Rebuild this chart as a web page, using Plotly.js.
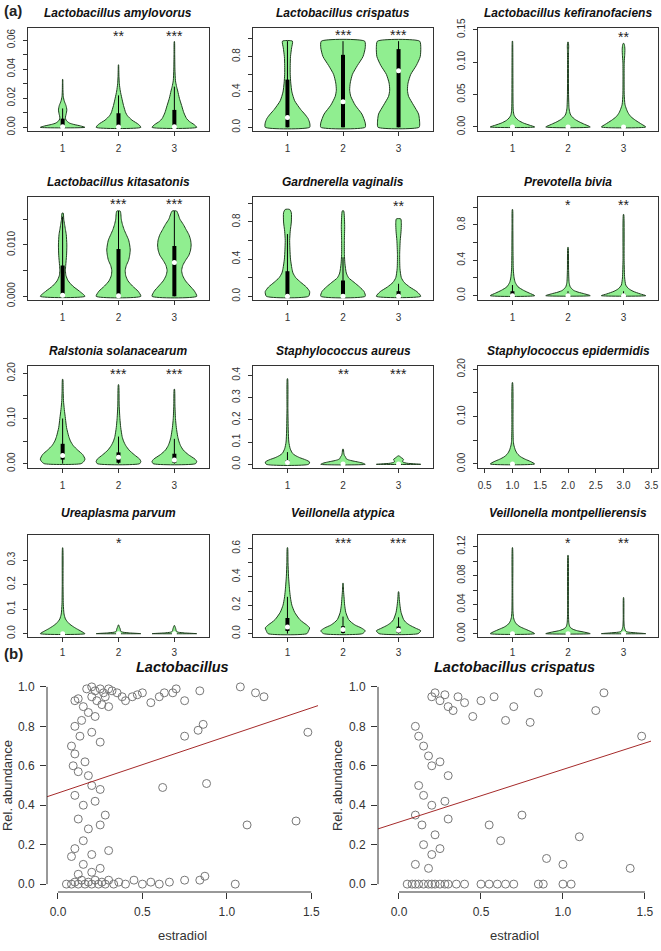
<!DOCTYPE html>
<html><head><meta charset="utf-8">
<script src="https://cdn.plot.ly/plotly-3.0.1.min.js"></script>
<style>html,body{margin:0;padding:0;background:#fff}#chart{width:661px;height:951px}</style>
</head><body><div id="chart"></div>
<script>
// ---------- DATA ----------
const groups = [1, 2, 3];
const panelTitles = ["Lactobacillus amylovorus","Lactobacillus crispatus","Lactobacillus kefiranofaciens",
  "Lactobacillus kitasatonis","Gardnerella vaginalis","Prevotella bivia",
  "Ralstonia solanacearum","Staphylococcus aureus","Staphylococcus epidermidis",
  "Ureaplasma parvum","Veillonella atypica","Veillonella montpellierensis"];
const panelStars = [["","**","***"],["","***","***"],["","","**"],["","***","***"],["","","**"],["","*","**"],
  ["","***","***"],["","**","***"],["","***","***"],["","*",""],["","***","***"],["","*","**"]];
const starLevel = [0.0625,1.044,0.139,0.0179,0.97,1.02,0.198,0.407,0.179,0.368,0.635,0.1246];

// violin outlines: [value, half-width] pairs per group
const vAmylovorus = [
 [[0,.40],[.001,.32],[.002,.2],[.003,.12],[.005,.06],[.007,.05],[.009,.062],[.012,.075],[.015,.06],[.018,.03],[.021,.012],[.025,.006],[.03,.004],[.033,.002]],
 [[0,.40],[.002,.36],[.005,.24],[.008,.16],[.01,.13],[.015,.09],[.02,.06],[.025,.032],[.03,.015],[.035,.008],[.04,.005],[.043,.002]],
 [[0,.40],[.002,.35],[.004,.27],[.006,.22],[.01,.17],[.015,.13],[.02,.09],[.025,.06],[.028,.04],[.032,.02],[.04,.01],[.05,.006],[.059,.002]]];
const vCrispatus = [
 [[0,.40],[.05,.40],[.1,.37],[.15,.31],[.2,.24],[.3,.13],[.4,.08],[.5,.06],[.6,.05],[.7,.05],[.8,.055],[.9,.075],[.975,.09]],
 [[0,.40],[.05,.40],[.15,.34],[.25,.22],[.35,.14],[.42,.12],[.5,.13],[.6,.17],[.7,.26],[.8,.36],[.9,.40],[.975,.39]],
 [[0,.37],[.05,.38],[.15,.36],[.25,.27],[.35,.18],[.42,.16],[.5,.17],[.6,.22],[.7,.32],[.8,.39],[.9,.40],[.975,.38]]];
const vKefiranofaciens = [
 [[0,.40],[.003,.3],[.006,.2],[.01,.11],[.014,.06],[.018,.03],[.025,.015],[.04,.01],[.08,.008],[.13,.005],[.1325,.002]],
 [[0,.40],[.004,.3],[.008,.2],[.012,.12],[.016,.07],[.02,.04],[.028,.02],[.05,.01],[.1,.008],[.118,.01],[.125,.012],[.131,.004]],
 [[0,.40],[.004,.33],[.01,.22],[.016,.13],[.022,.08],[.028,.05],[.035,.025],[.05,.012],[.08,.01],[.1,.012],[.11,.02],[.12,.024],[.127,.015],[.129,.004]]];
const vKitasatonis = [
 [[0,.40],[.001,.3],[.002,.18],[.003,.1],[.004,.06],[.005,.05],[.006,.055],[.008,.07],[.01,.075],[.012,.065],[.013,.05],[.014,.035],[.015,.02],[.0162,.01]],
 [[0,.40],[.001,.35],[.002,.25],[.003,.17],[.004,.13],[.005,.12],[.006,.14],[.007,.18],[.008,.2],[.009,.21],[.01,.2],[.011,.18],[.012,.14],[.013,.1],[.014,.07],[.015,.05],[.0166,.03]],
 [[0,.40],[.001,.36],[.002,.28],[.003,.2],[.004,.15],[.005,.13],[.006,.15],[.007,.2],[.008,.26],[.009,.29],[.01,.3],[.011,.29],[.012,.26],[.013,.21],[.014,.16],[.015,.1],[.0166,.04]]];
const vGardnerella = [
 [[0,.38],[.05,.40],[.1,.34],[.15,.24],[.2,.15],[.25,.1],[.3,.08],[.4,.055],[.5,.045],[.6,.04],[.7,.05],[.8,.07],[.9,.07],[.935,.04]],
 [[0,.40],[.05,.38],[.1,.3],[.15,.2],[.2,.1],[.25,.06],[.35,.035],[.45,.025],[.6,.025],[.75,.03],[.85,.025],[.92,.012]],
 [[0,.40],[.05,.33],[.1,.2],[.15,.1],[.2,.05],[.3,.025],[.45,.02],[.6,.03],[.7,.045],[.78,.05],[.833,.04]]];
const vPrevotella = [
 [[0,.40],[.03,.3],[.06,.2],[.1,.1],[.15,.05],[.2,.03],[.3,.015],[.5,.01],[.8,.007],[.974,.003]],
 [[0,.40],[.02,.3],[.04,.18],[.06,.1],[.1,.04],[.15,.02],[.3,.01],[.546,.003]],
 [[0,.40],[.02,.3],[.05,.17],[.08,.09],[.12,.04],[.2,.02],[.4,.01],[.918,.003]]];
const vRalstonia = [
 [[0,.33],[.005,.38],[.01,.40],[.02,.36],[.03,.27],[.04,.19],[.05,.14],[.06,.11],[.08,.07],[.1,.05],[.12,.03],[.14,.015],[.16,.01],[.187,.003]],
 [[0,.38],[.005,.40],[.01,.38],[.02,.28],[.03,.19],[.04,.13],[.05,.09],[.06,.065],[.08,.04],[.1,.025],[.13,.012],[.175,.003]],
 [[0,.38],[.005,.40],[.01,.37],[.02,.25],[.03,.16],[.04,.11],[.05,.08],[.06,.06],[.08,.035],[.1,.02],[.13,.01],[.165,.003]]];
const vAureus = [
 [[0,.38],[.01,.40],[.02,.33],[.03,.22],[.04,.14],[.05,.09],[.07,.05],[.1,.025],[.15,.015],[.25,.008],[.385,.003]],
 [[0,.40],[.005,.36],[.01,.28],[.015,.18],[.02,.1],[.025,.06],[.03,.05],[.035,.04],[.04,.025],[.05,.015],[.068,.006]],
 [[0,.40],[.002,.3],[.005,.15],[.01,.08],[.015,.07],[.02,.09],[.025,.08],[.03,.05],[.035,.025],[.038,.008]]];
const vEpidermidis = [
 [[0,.40],[.005,.33],[.01,.23],[.015,.15],[.02,.1],[.025,.07],[.03,.05],[.04,.025],[.05,.015],[.08,.01],[.172,.003]],
 [], []];
const vUreaplasma = [
 [[0,.40],[.01,.33],[.02,.25],[.03,.18],[.04,.12],[.05,.08],[.06,.05],[.08,.025],[.12,.012],[.2,.007],[.35,.002]],
 [[0,.40],[.003,.2],[.006,.08],[.01,.04],[.015,.035],[.02,.03],[.025,.02],[.03,.012],[.0355,.004]],
 [[0,.40],[.003,.18],[.006,.07],[.01,.035],[.015,.03],[.02,.025],[.025,.018],[.03,.01],[.033,.004]]];
const vAtypica = [
 [[0,.35],[.02,.38],[.04,.40],[.06,.35],[.08,.28],[.1,.22],[.15,.13],[.2,.08],[.25,.055],[.3,.04],[.4,.02],[.5,.01],[.605,.003]],
 [[0,.35],[.02,.40],[.04,.33],[.06,.22],[.08,.15],[.1,.1],[.15,.05],[.2,.03],[.25,.02],[.3,.01],[.355,.003]],
 [[0,.35],[.02,.40],[.04,.3],[.06,.2],[.08,.13],[.1,.09],[.15,.045],[.2,.025],[.25,.012],[.295,.003]]];
const vMontpellierensis = [
 [[0,.40],[.003,.33],[.006,.24],[.009,.15],[.012,.09],[.015,.055],[.018,.035],[.022,.02],[.03,.01],[.06,.006],[.1186,.002]],
 [[0,.40],[.002,.3],[.004,.17],[.006,.09],[.008,.05],[.01,.03],[.015,.015],[.03,.007],[.108,.002]],
 [[0,.40],[.001,.25],[.002,.1],[.003,.05],[.005,.03],[.01,.012],[.02,.006],[.0498,.002]]];

// box stats per group: [q1, median, q3, whiskerLow, whiskerHigh]
const bAmylovorus = [[.001,.0005,.006,0,.013],[.001,.0003,.0097,0,.022],[.001,.0005,.012,0,.028]];
const bCrispatus = [[0,.11,.54,0,.975],[0,.29,.82,0,.975],[0,.64,.885,0,.975]];
const bKefiranofaciens = [[0,0,.0005,0,.001],[0,0,.0005,0,.001],[0,0,.0005,0,.001]];
const bKitasatonis = [[.0004,.0002,.006,0,.0155],[0,.0001,.0092,0,.0166],[0,.0066,.0098,0,.0166]];
const bGardnerella = [[.01,0,.27,0,.67],[.02,0,.17,0,.42],[.01,0,.055,0,.135]];
const bPrevotella = [[0,0,.05,0,.12],[0,0,.02,0,.05],[0,0,.02,0,.05]];
const bRalstonia = [[.009,.018,.044,0,.1],[.002,.014,.025,0,.06],[.002,.008,.022,0,.055]];
const bAureus = [[.002,.008,.018,0,.055],[0,.002,.004,0,.01],[0,.001,.002,0,.005]];
const bEpidermidis = [[0,0,.001,0,.002],null,null];
const bUreaplasma = [[0,0,.003,0,.007],[0,0,0,0,0],[0,0,0,0,0]];
const bAtypica = [[.019,.047,.11,0,.259],[.005,.03,.052,0,.12],[.005,.024,.05,0,.115]];
const bMontpellierensis = [[0,0,.0005,0,.001],[0,0,.0005,0,.001],[0,0,.0005,0,.001]];

const violinData = [vAmylovorus,vCrispatus,vKefiranofaciens,vKitasatonis,vGardnerella,vPrevotella,
  vRalstonia,vAureus,vEpidermidis,vUreaplasma,vAtypica,vMontpellierensis];
const boxData = [bAmylovorus,bCrispatus,bKefiranofaciens,bKitasatonis,bGardnerella,bPrevotella,
  bRalstonia,bAureus,bEpidermidis,bUreaplasma,bAtypica,bMontpellierensis];

// axis ticks for each panel
const yTickVals = [[0,.01,.02,.03,.04,.05,.06],[0,.2,.4,.6,.8,1],[0,.05,.1,.15],[0,.005,.01,.015],
  [0,.2,.4,.6,.8,1],[0,.2,.4,.6,.8,1],[0,.05,.1,.15,.2],[0,.1,.2,.3,.4],[0,.05,.1,.15,.2],
  [0,.1,.2,.3],[0,.1,.2,.3,.4,.5,.6],[0,.02,.04,.06,.08,.1,.12]];
const yTickText = [["0.00","","0.02","","0.04","","0.06"],["0.0","","0.4","","0.8",""],["0.00","0.05","0.10","0.15"],
  ["0.000","","0.010",""],["0.0","","0.4","","0.8",""],["0.0","","0.4","","0.8",""],
  ["0.00","","0.10","","0.20"],["0.0","0.1","0.2","0.3","0.4"],["0.00","","0.10","","0.20"],
  ["0.0","0.1","0.2","0.3"],["0.0","","0.2","","0.4","","0.6"],["0.00","","0.04","","0.08","","0.12"]];
const yRanges = [[-0.0025,0.0683],[-0.042,1.124],[-0.0062,0.1526],[-0.00072,0.01934],[-0.04,1.069],[-0.049,1.115],
  [-0.0096,0.2163],[-0.0165,0.442],[-0.0085,0.207],[-0.0136,0.402],[-0.0235,0.694],[-0.0046,0.136]];

// panel (b) scatter data
const lactoX = [0.17,0.2,0.22,0.25,0.27,0.3,0.32,0.35,0.38,0.2,0.23,0.26,0.28,0.4,0.44,0.47,0.5,0.55,0.6,0.63,0.68,0.7,0.75,0.84,
  0.12,0.1,0.15,0.18,0.22,0.3,0.14,0.1,0.13,0.2,0.25,0.08,0.1,0.16,0.09,0.12,0.18,0.2,0.25,0.1,0.15,0.22,0.28,0.12,0.18,0.25,
  0.15,0.1,0.2,0.08,0.3,0.15,0.25,0.12,0.2,
  0.05,0.08,0.1,0.12,0.14,0.16,0.18,0.2,0.22,0.24,0.26,0.28,0.3,0.33,0.36,0.4,0.45,0.5,0.55,
  1.08,1.17,1.22,1.48,1.12,1.41,0.88,0.62,0.86,0.83,0.75,0.66,0.6,0.87,0.84,1.05,0.75];
const lactoY = [0.99,1.0,0.98,0.99,0.97,0.99,0.98,0.97,0.95,0.95,0.93,0.91,0.95,0.93,0.95,0.96,0.97,0.92,0.95,0.97,0.97,0.99,0.93,0.98,
  0.94,0.93,0.9,0.87,0.85,0.9,0.83,0.8,0.75,0.77,0.72,0.7,0.66,0.62,0.6,0.57,0.55,0.5,0.48,0.45,0.4,0.42,0.35,0.33,0.28,0.3,
  0.22,0.18,0.15,0.14,0.17,0.1,0.08,0.05,0.06,
  0.0,0.0,0.01,0.0,0.02,0.0,0.01,0.0,0.02,0.0,0.01,0.0,0.02,0.0,0.01,0.0,0.02,0.0,0.01,
  1.0,0.97,0.95,0.77,0.3,0.32,0.51,0.49,0.81,0.78,0.75,0.01,0.0,0.04,0.02,0.0,0.02];
const crispX = [0.2,0.22,0.25,0.28,0.3,0.33,0.36,0.4,0.45,0.5,0.58,0.65,0.7,0.8,0.85,1.2,1.25,1.48,
  0.1,0.12,0.15,0.18,0.2,0.25,0.3,0.12,0.15,0.2,0.28,0.1,0.14,0.22,0.3,0.15,0.2,0.25,0.1,0.18,0.55,0.62,0.75,0.9,1.0,1.41,1.1,
  0.05,0.08,0.1,0.12,0.15,0.18,0.2,0.22,0.25,0.28,0.3,0.35,0.4,0.5,0.55,0.6,0.65,0.7,0.85,0.88,1.0,1.05];
const crispY = [0.95,0.97,0.93,0.96,0.9,0.88,0.95,0.92,0.85,0.93,0.95,0.83,0.9,0.82,0.97,0.88,0.97,0.75,
  0.8,0.75,0.7,0.65,0.6,0.62,0.55,0.5,0.45,0.4,0.42,0.35,0.3,0.25,0.33,0.2,0.15,0.18,0.1,0.08,0.3,0.22,0.35,0.13,0.1,0.08,0.24,
  0,0,0,0,0,0,0,0,0,0,0,0,0,0,0,0,0,0,0,0,0,0];
const lactoFitX = [-0.065, 1.54];
const crispFitX = [-0.128, 1.537];
const lactoFitY = [0.443, 0.905];
const crispFitY = [0.28, 0.725];
const scatTickX = [0, 0.5, 1, 1.5];
const scatTickY = [0, 0.2, 0.4, 0.6, 0.8, 1];

// ---------- LAYOUT GEOMETRY ----------
const W = 661, H = 951;
const colPx = [[28,209],[253,433],[478,658]];
const rowPx = [[28,131],[197,300],[366,468],[535,637]];
const titlePx = [13,182,351,513];
const FONT = "Liberation Sans, Arial, Helvetica, sans-serif";
const AX = "#333333";

const traces = [];
const layout = {
  width: W, height: H, margin: {l:0,r:0,t:0,b:0}, showlegend: false,
  paper_bgcolor: "#fff", plot_bgcolor: "#fff",
  font: {family: FONT, color: AX, size: 10},
  annotations: [], shapes: []
};

function axisBase() {
  return {showgrid:false, zeroline:false, showline:true, mirror:true, linecolor:AX, linewidth:1,
    ticks:"outside", ticklen:4, tickcolor:AX, tickwidth:1, tickfont:{family:FONT,size:10,color:AX}, fixedrange:true};
}

for (let p = 0; p < 12; p++) {
  const r = Math.floor(p/3), c = p % 3;
  const xa = "x" + (p+1), ya = "y" + (p+1);
  const xk = "xaxis" + (p+1), yk = "yaxis" + (p+1);
  const xdom = [colPx[c][0]/W, colPx[c][1]/W];
  const ydom = [1 - rowPx[r][1]/H, 1 - rowPx[r][0]/H];
  const xAx = Object.assign(axisBase(), {domain:xdom, range:[0.38,3.62], anchor:ya, ticklabelstandoff:(r === 3 ? 2 : 4)});
  if (p === 8) { xAx.tickvals = [0.5,1,1.5,2,2.5,3,3.5]; xAx.ticktext = ["0.5","1.0","1.5","2.0","2.5","3.0","3.5"]; }
  else { xAx.tickvals = groups; xAx.ticktext = groups.map(String); }
  const yAx = Object.assign(axisBase(), {domain:ydom, range:yRanges[p], anchor:xa, tickvals:yTickVals[p], ticktext:yTickText[p], tickangle:-90, ticklabelstandoff:4});
  layout[xk] = xAx; layout[yk] = yAx;

  for (let g = 0; g < 3; g++) {
    const prof = violinData[p][g];
    if (!prof || prof.length === 0) continue;
    const cx = groups[g];
    const xs = [], ys = [];
    prof.forEach(([v,w]) => { xs.push(cx + w); ys.push(v); });
    for (let i = prof.length-1; i >= 0; i--) { xs.push(cx - prof[i][1]); ys.push(prof[i][0]); }
    xs.push(xs[0]); ys.push(ys[0]);
    traces.push({type:"scatter", mode:"lines", x:xs, y:ys, xaxis:xa, yaxis:ya, fill:"toself",
      fillcolor:"#90ee90", line:{color:"#1f3d1f", width:1, shape:"spline", smoothing:0.6}, hoverinfo:"skip"});
    const b = boxData[p][g];
    if (b) {
      traces.push({type:"scatter", mode:"lines", x:[cx,cx], y:[b[3],b[4]], xaxis:xa, yaxis:ya, line:{color:"#000",width:1}, hoverinfo:"skip"});
      traces.push({type:"scatter", mode:"lines", x:[cx,cx], y:[b[0],b[2]], xaxis:xa, yaxis:ya, line:{color:"#000",width:4}, hoverinfo:"skip"});
      traces.push({type:"scatter", mode:"markers", x:[cx], y:[b[1]], xaxis:xa, yaxis:ya, marker:{color:"#fff",size:5}, hoverinfo:"skip"});
    }
    if (panelStars[p][g]) {
      layout.annotations.push({xref:xa, yref:ya, x:cx, y:starLevel[p], text:panelStars[p][g], showarrow:false,
        font:{family:FONT,size:14,color:"#222"}, yanchor:"middle"});
    }
  }
  layout.annotations.push({xref:"paper", yref:"paper", x:(xdom[0]+xdom[1])/2, y:1 - titlePx[r]/H,
    text:"<b><i>"+panelTitles[p]+"</i></b>", showarrow:false, font:{family:FONT,size:12,color:"#111"}, xanchor:"center", yanchor:"middle"});
}

// scatter panels
const scatX = [[47,318],[378,651]];
const scatY = [679,892];
const scatTitles = ["Lactobacillus","Lactobacillus crispatus"];
const scatXs = [lactoX, crispX], scatYs = [lactoY, crispY], fitXs = [lactoFitX, crispFitX], fitYs = [lactoFitY, crispFitY];
for (let s = 0; s < 2; s++) {
  const n = 13 + s, xa = "x"+n, ya = "y"+n;
  const xdom = [scatX[s][0]/W, scatX[s][1]/W];
  const ydom = [1 - scatY[1]/H, 1 - scatY[0]/H];
  layout["xaxis"+n] = Object.assign(axisBase(), {domain:xdom, range:fitXs[s], anchor:ya, showline:false, mirror:false,
    tickvals:scatTickX, ticktext:scatTickX.map(v=>v.toFixed(1)), tickfont:{family:FONT,size:12,color:AX}, ticklen:6, ticklabelstandoff:3,
    title:{text:"estradiol", font:{family:FONT,size:13,color:AX}, standoff:12}});
  layout["yaxis"+n] = Object.assign(axisBase(), {domain:ydom, range:[-0.04,1.04], anchor:xa, showline:false, mirror:false,
    tickvals:scatTickY, ticktext:scatTickY.map(v=>v.toFixed(1)), tickfont:{family:FONT,size:12,color:AX}, ticklen:6, ticklabelstandoff:3,
    title:{text:"Rel. abundance", font:{family:FONT,size:13,color:AX}, standoff:3}});
  // R-style axis lines spanning the tick range
  layout.shapes.push({type:"line", xref:xa, yref:ya+" domain", x0:scatTickX[0], x1:scatTickX[scatTickX.length-1], y0:0, y1:0, line:{color:AX,width:1}});
  layout.shapes.push({type:"line", xref:xa+" domain", yref:ya, x0:0, x1:0, y0:scatTickY[0], y1:scatTickY[scatTickY.length-1], line:{color:AX,width:1}});
  traces.push({type:"scatter", mode:"markers", x:scatXs[s], y:scatYs[s], xaxis:xa, yaxis:ya,
    marker:{symbol:"circle-open", size:8, color:"#777", line:{width:1}}, hoverinfo:"skip", cliponaxis:false});
  traces.push({type:"scatter", mode:"lines", x:fitXs[s], y:fitYs[s], xaxis:xa, yaxis:ya, line:{color:"#a52a2a", width:1}, hoverinfo:"skip"});
  layout.annotations.push({xref:"paper", yref:"paper", x:(xdom[0]+xdom[1])/2, y:1-667/H, text:"<b><i>"+scatTitles[s]+"</i></b>",
    showarrow:false, font:{family:FONT,size:14.5,color:"#111"}, xanchor:"center", yanchor:"middle"});
}

layout.annotations.push({xref:"paper", yref:"paper", x:2/W, y:1-10/H, text:"<b>(a)</b>", showarrow:false,
  font:{family:FONT,size:15,color:"#222"}, xanchor:"left", yanchor:"middle"});
layout.annotations.push({xref:"paper", yref:"paper", x:2/W, y:1-653/H, text:"<b>(b)</b>", showarrow:false,
  font:{family:FONT,size:15,color:"#222"}, xanchor:"left", yanchor:"middle"});

Plotly.newPlot("chart", traces, layout, {staticPlot:true, displayModeBar:false});
</script></body></html>
